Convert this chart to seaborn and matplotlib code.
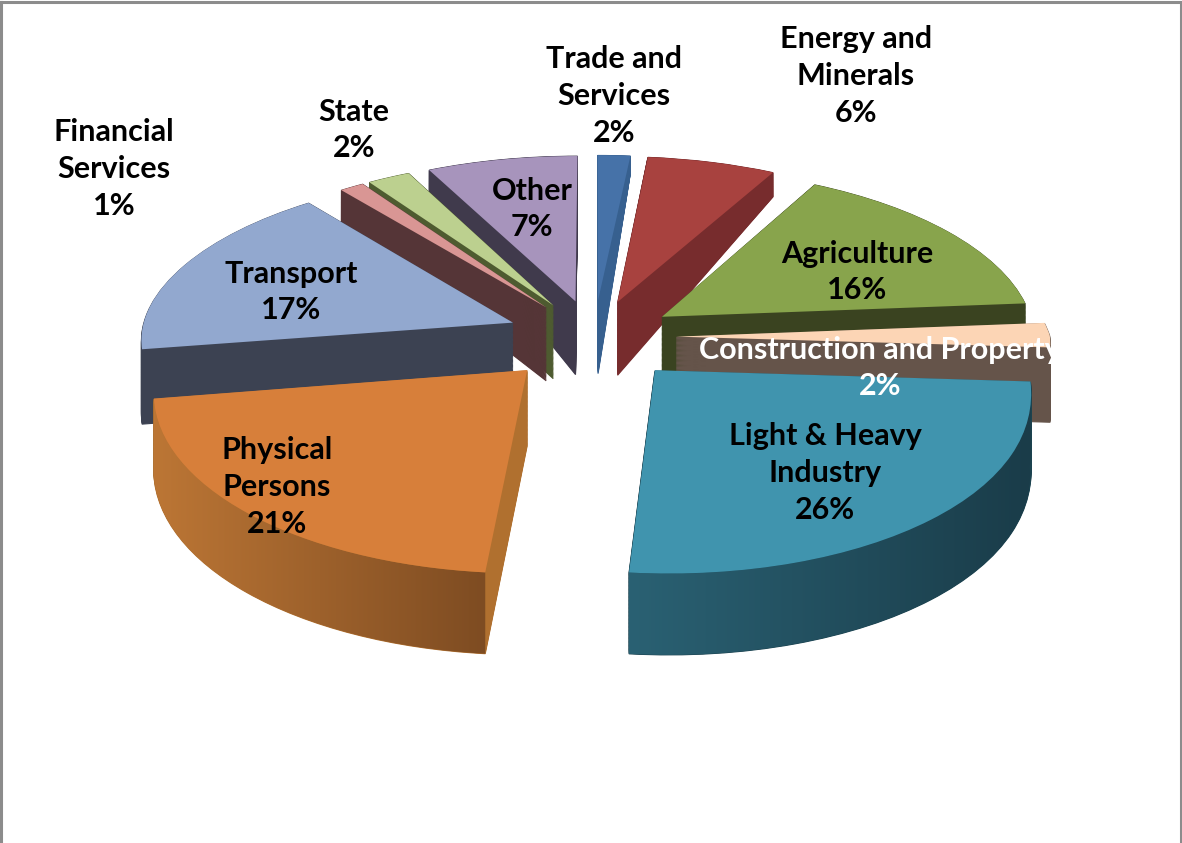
import numpy as np
import matplotlib
matplotlib.use('Agg')
import matplotlib.pyplot as plt
import seaborn as sns
from matplotlib.colors import LinearSegmentedColormap
from matplotlib.patches import Polygon, Rectangle
from matplotlib.transforms import Transform

categories = ['Trade and\nServices', 'Energy and\nMinerals', 'Agriculture',
              'Construction and Property', 'Light & Heavy\nIndustry', 'Physical\nPersons',
              'Transport', 'Financial\nServices', 'State', 'Other']
shares = [1.6, 6.3, 15.8, 2.3, 25.5, 21.0, 16.8, 1.2, 2.1, 7.4]

top_colors = ['#4672A8', '#A8423F', '#88A44C', '#FCD5B5', '#4094AE',
              '#D77F3A', '#92A8CF', '#D99694', '#BCD08F', '#A794BC']
wall_colors = ['#37608F', '#772C2D', '#3A4320', '#65544A', '#1C4350',
               '#B0702F', '#3C4252', '#553537', '#4E5B30', '#403A4C']
draw_order = [1, 1, 2, 3, 6, 5, 4, 3, 2, 1]
explode = [0.22, 0.22, 0.22, 0.22, 0.25, 0.26, 0.235, 0.22, 0.22, 0.22]
label_xy = [(614, 96), (856, 76), (857, 272), (880, 368), (825, 473),
            (277, 487), (291, 292), (114, 169), (354, 130), (532, 209)]
label_colors = ['black', 'black', 'black', 'white', 'black',
                'black', 'black', 'black', 'black', 'black']
wall_ramps = {4: ('#2A6173', '#1A3C49'), 5: ('#BC7635', '#7E4C22')}

N_LAYERS = 60


class TiltedPie(Transform):
    # pie plane -> pixels, front of the pie bigger than the back
    input_dims = 2
    output_dims = 2

    def __init__(self, drop=0.0):
        super().__init__()
        self.drop = drop

    def transform_non_affine(self, values):
        values = np.asarray(values, dtype=float)
        x, y = values[:, 0], values[:, 1]
        w = 1 + 0.119 * y
        depth = np.interp(y, [-1.3, 0.25, 1.25], [82, 73, 15])
        shear = 6 * np.clip((-y - 0.2) / 0.96, 0, None)
        narrow = 1 - 0.03 * np.clip(-y / 0.3, 0, 1)
        return np.column_stack([594 + 374 * x * narrow / w + shear,
                                337 - 170.6 * y / w + self.drop * depth])


def draw_layer(ax, colors, drop, bump=0.0, edge=0.0):
    wedges, _ = ax.pie(shares, explode=explode, colors=colors, startangle=90, normalize=True,
                       counterclock=False)
    for wedge, z in zip(wedges, draw_order):
        wedge.set_transform(TiltedPie(drop) + ax.transData)
        wedge.set_zorder(3 + z + bump)
        wedge.set_edgecolor(wedge.get_facecolor())
        wedge.set_linewidth(edge)
    return wedges


def rim_polygon(wedge):
    t = np.radians(np.linspace(wedge.theta1, wedge.theta2, 80))
    rim = np.column_stack([wedge.center[0] + wedge.r * np.cos(t),
                           wedge.center[1] + wedge.r * np.sin(t)])
    return np.vstack([TiltedPie(0.0).transform(rim), TiltedPie(1.0).transform(rim)[::-1]])


sns.set_theme(style='white')
plt.rcParams['font.family'] = ['Lato', 'DejaVu Sans']

fig = plt.figure(figsize=(11.82, 8.43), dpi=100)
ax = fig.add_axes([1.5 / 1182, 0, 1179 / 1182, 841 / 843])

for drop in np.linspace(1, 0.01, N_LAYERS):
    draw_layer(ax, wall_colors, drop, edge=0.8)
wedges = draw_layer(ax, top_colors, 0.0, bump=0.3)

for idx, (left, right) in wall_ramps.items():
    pts = rim_polygon(wedges[idx])
    ramp = LinearSegmentedColormap.from_list('ramp', [left, right])
    im = ax.imshow(np.linspace(0, 1, 256).reshape(1, -1), cmap=ramp, aspect='auto',
                   extent=[pts[:, 0].min(), pts[:, 0].max(), pts[:, 1].max(), pts[:, 1].min()],
                   zorder=3 + draw_order[idx] + 0.2)
    im.set_clip_path(Polygon(pts, transform=ax.transData))

ax.set_xlim(1.5, 1180.5)
ax.set_ylim(843, 2)
ax.set_aspect('auto')
ax.set_xticks([])
ax.set_yticks([])

for name, share, xy, color in zip(categories, shares, label_xy, label_colors):
    txt = ax.text(xy[0], xy[1], f'{name}\n{share:.0f}%', color=color, fontsize=22, fontweight='bold',
                  ha='center', va='center', linespacing=1.38, zorder=20)
    if color == 'white':
        # the label runs past the edge of its box in the original
        txt.set_clip_path(Rectangle((690, 320), 365, 100, transform=ax.transData))

ax.set_frame_on(True)
sns.despine(ax=ax, top=False, right=False, left=False, bottom=True)
for side in ['top', 'left', 'right']:
    ax.spines[side].set_color('#8C8C8C')
    ax.spines[side].set_linewidth(2.2)

fig.savefig('out.png', dpi=100)
